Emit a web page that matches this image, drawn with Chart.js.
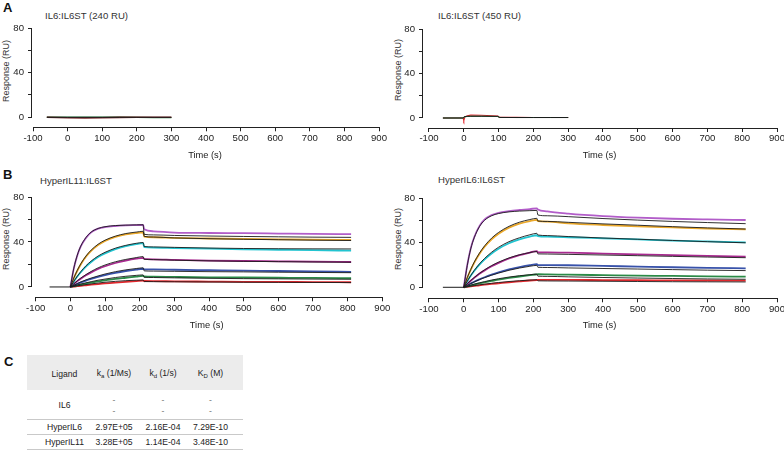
<!DOCTYPE html>
<html><head><meta charset="utf-8">
<script src="https://cdn.jsdelivr.net/npm/chart.js@4.4.1/dist/chart.umd.min.js"></script>
<style>
body{margin:0;background:#fff;}
#wrap{position:relative;width:784px;height:451px;overflow:hidden;font-family:"Liberation Sans",Arial,sans-serif;color:#222;}
canvas{position:absolute;}
.letter{position:absolute;font-weight:bold;font-size:13px;line-height:13px;color:#111;}
.ptitle{position:absolute;font-size:9.6px;line-height:10px;white-space:nowrap;color:#333;}
.ytitle{position:absolute;font-size:9px;line-height:10px;white-space:nowrap;transform:translate(-50%,-50%) rotate(-90deg);color:#333;}
.tcell{position:absolute;font-size:8.6px;line-height:10px;white-space:nowrap;transform:translate(-50%,-50%);color:#222;}
.tcell sub{font-size:6px;vertical-align:-2px;}
.dash{color:#777;}
.tline{position:absolute;left:27px;width:216px;height:1px;background:#c9c9c9;}
</style></head>
<body><div id="wrap">
<div class="letter" style="left:3px;top:1px">A</div>
<div class="letter" style="left:3px;top:168px">B</div>
<div class="letter" style="left:4px;top:355px">C</div>
<div class="ptitle" style="left:45px;top:11px">IL6:IL6ST (240 RU)</div>
<div class="ptitle" style="left:438px;top:11px">IL6:IL6ST (450 RU)</div>
<div class="ptitle" style="left:40px;top:175.5px">HyperIL11:IL6ST</div>
<div class="ptitle" style="left:438px;top:175px">HyperIL6:IL6ST</div>
<div class="ytitle" style="left:6px;top:70.5px">Response (RU)</div>
<div class="ytitle" style="left:398px;top:70px">Response (RU)</div>
<div class="ytitle" style="left:6px;top:239px">Response (RU)</div>
<div class="ytitle" style="left:398px;top:239px">Response (RU)</div>
<canvas id="cA1" width="392" height="162" style="left:0;top:0"></canvas>
<canvas id="cA2" width="392" height="162" style="left:392px;top:0"></canvas>
<canvas id="cB1" width="392" height="169" style="left:0;top:163px"></canvas>
<canvas id="cB2" width="392" height="169" style="left:392px;top:163px"></canvas>
<div id="table"></div>
</div>
<script>
// ---------- tick values ----------
const xTickVals = [-100, 0, 100, 200, 300, 400, 500, 600, 700, 800, 900];
const yTickVals = [0, 10, 20, 30, 40, 50, 60, 70, 80];
const yLabelVals = [0, 40, 80];

// ---------- panel A : IL6 (no binding) ----------
const timeA1 = [-60, 0, 50, 100, 150, 200, 250, 300];
const a1Green = [0, 0, 0, 0, 0, -0.1, -0.3, -0.3];
const a1DarkRed = [0, -0.4, -0.5, -0.4, -0.1, 0, 0, 0];
const a1Black = [0, 0, 0, 0, 0, 0, 0, 0];

const timeA2 = [-60, -2, 0, 3, 10, 20, 50, 98, 102, 150, 200, 250, 300];
const a2Red = [0, 0, -2.4, 0.8, 2, 2.6, 2.5, 1.8, 0.8, 0.6, 0.5, 0.5, 0.5];
const a2Green = [0, 0, 0, 1.2, 1.4, 1.5, 1.5, 1.4, 0.6, 0.5, 0.5, 0.5, 0.5];
const a2Black = [0, 0, 0, 1.3, 1.5, 1.6, 1.6, 1.5, 0.5, 0.4, 0.4, 0.4, 0.4];

// ---------- panel B : sensorgrams ----------
const baseTime = [-60, 0];
const baseVals = [0, 0];
const timeB = [0, 10, 20, 30, 45, 60, 80, 100, 130, 160, 190, 210, 213, 240, 300, 400, 500, 600, 700, 810];

// HyperIL11:IL6ST  measured
const il11Purple  = [0, 16.5, 28, 36, 43.5, 48.5, 51.8, 53.3, 54.2, 54.7, 55, 55.2, 51.3, 49.5, 48.4, 48, 47.8, 47.5, 47.2, 46.9];
const il11Orange  = [0, 7.8, 14.4, 20, 26.8, 32, 37.2, 40.9, 44.5, 46.7, 48, 48.6, 44.8, 44.2, 43.6, 43.1, 42.7, 42.4, 42.1, 41.8];
const il11Cyan    = [0, 4.9, 9.3, 13.1, 18.1, 22.2, 26.6, 29.9, 33.7, 36.3, 38.1, 38.9, 35.4, 35, 34.6, 34, 33.5, 33.1, 32.7, 32.3];
const il11Magenta = [0, 2.7, 5.2, 7.4, 10.4, 13, 16, 18.4, 21.3, 23.4, 25.1, 25.9, 24.9, 24.6, 24.1, 23.5, 23.1, 22.8, 22.5, 22.2];
const il11Blue    = [0, 1.4, 2.7, 4, 5.7, 7.2, 9, 10.6, 12.6, 14.2, 15.5, 16.2, 15.7, 15.6, 15.3, 14.9, 14.5, 14.2, 13.8, 13.5];
const il11Green   = [0, 0.7, 1.4, 2.1, 3, 3.9, 5, 5.9, 7.2, 8.2, 9.2, 9.8, 9.3, 9.1, 8.9, 8.6, 8.4, 8.2, 8, 7.8];
const il11Red     = [0, 0.4, 0.7, 1, 1.5, 2, 2.6, 3.1, 3.9, 4.6, 5.2, 5.6, 5.3, 5.2, 5, 4.8, 4.6, 4.5, 4.3, 4.2];
// HyperIL11:IL6ST  fitted
const il11FitPurple  = [0, 16.8, 28.3, 36.3, 44, 48.8, 52, 53.6, 54.6, 55, 55.2, 55.3, 46.8, 46.3, 45.8, 45.3, 44.9, 44.6, 44.3, 44.1];
const il11FitOrange  = [0, 8, 14.8, 20.6, 27.5, 32.8, 38, 41.6, 45.2, 47.5, 48.8, 49.5, 45, 44.4, 43.6, 42.9, 42.4, 42, 41.6, 41.3];
const il11FitCyan    = [0, 5, 9.6, 13.6, 18.8, 23, 27.5, 30.8, 34.5, 37, 38.8, 39.5, 36, 35.6, 35.2, 34.6, 34.2, 34, 33.9, 33.8];
const il11FitMagenta = [0, 2.8, 5.5, 7.9, 11, 13.8, 17, 19.5, 22.4, 24.5, 26.1, 27, 24.6, 24.3, 23.8, 23.2, 22.8, 22.5, 22.2, 22];
const il11FitBlue    = [0, 1.5, 3, 4.4, 6.3, 7.9, 9.8, 11.5, 13.6, 15.2, 16.4, 17, 14.3, 14.1, 13.9, 13.6, 13.4, 13.1, 12.9, 12.7];
const il11FitGreen   = [0, 0.9, 1.8, 2.6, 3.7, 4.7, 6, 7, 8.4, 9.5, 10.3, 10.7, 8.6, 8.4, 8.1, 7.7, 7.4, 7.2, 7, 6.8];
const il11FitRed     = [0, 0.5, 1, 1.4, 2.1, 2.7, 3.5, 4.2, 5, 5.6, 6, 6.2, 4.8, 4.7, 4.6, 4.4, 4.2, 4.1, 4, 3.9];

// HyperIL6:IL6ST  measured
const il6Purple  = [0, 20, 35, 45, 55, 61, 65, 67, 68.5, 69.5, 70.3, 71, 70, 68.2, 66.2, 64, 62.6, 61.6, 61, 60.5];
const il6Orange  = [0, 8.4, 15.6, 22, 29.9, 36.4, 43.1, 48.2, 53.6, 57.2, 59.5, 60.6, 59.5, 59, 57.5, 56, 54.8, 53.8, 52.8, 52];
const il6Cyan    = [0, 5.4, 10.3, 14.6, 20.3, 25.1, 30.4, 34.7, 39.6, 43, 45.6, 46.8, 46, 45.5, 45, 44, 43, 42, 41.2, 40.4];
const il6Magenta = [0, 3.1, 5.9, 8.5, 12.1, 15.2, 18.9, 22, 25.9, 28.9, 31.2, 32.6, 31.5, 31.4, 31.1, 30.3, 29.6, 28.9, 28.2, 27.5];
const il6Blue    = [0, 1.8, 3.4, 5, 7.1, 9, 11.3, 13.4, 16, 18.1, 19.9, 20.8, 20, 19.9, 19.8, 19.2, 18.6, 18, 17.5, 17];
const il6Green   = [0, 0.8, 1.6, 2.4, 3.5, 4.5, 5.7, 6.9, 8.4, 9.7, 10.9, 11.6, 11.7, 11.6, 11.3, 10.9, 10.5, 10.2, 9.8, 9.5];
const il6Red     = [0, 0.4, 0.8, 1.2, 1.8, 2.3, 3, 3.6, 4.5, 5.3, 6.1, 6.5, 6.6, 6.6, 6.6, 6.5, 6.4, 6.2, 6.1, 6];
// HyperIL6:IL6ST  fitted
const il6FitPurple  = [0, 19.5, 34.5, 44.5, 54.5, 60.3, 64.3, 66.3, 67.8, 68.5, 68.9, 69.1, 65, 64.3, 63.5, 61.8, 60.4, 59.2, 58.2, 57.2];
const il6FitOrange  = [0, 8.6, 16, 22.6, 30.7, 37.3, 44.2, 49.3, 54.8, 58.5, 60.9, 62, 59.6, 59.2, 58.4, 57, 55.8, 54.5, 53.4, 52.4];
const il6FitCyan    = [0, 5.5, 10.6, 15.1, 21, 26, 31.5, 36, 41, 44.5, 47.2, 48.5, 47, 46.5, 45.6, 44.3, 43.2, 42.1, 41, 40];
const il6FitMagenta = [0, 3.2, 6.1, 8.8, 12.5, 15.7, 19.5, 22.6, 26.4, 29.2, 31.2, 32.2, 30, 29.9, 29.6, 29, 28.4, 27.8, 27.2, 26.6];
const il6FitBlue    = [0, 1.7, 3.3, 4.8, 6.9, 8.7, 10.9, 12.8, 15.3, 17.3, 18.9, 19.7, 18, 17.8, 17.4, 16.9, 16.4, 15.9, 15.4, 15];
const il6FitGreen   = [0, 1, 1.9, 2.8, 4, 5.1, 6.5, 7.7, 9.2, 10.4, 11.3, 11.8, 10, 9.8, 9.4, 8.8, 8.3, 7.9, 7.5, 7.2];
const il6FitRed     = [0, 0.5, 1, 1.5, 2.2, 2.8, 3.6, 4.3, 5.2, 5.9, 6.5, 6.8, 5.8, 5.7, 5.6, 5.4, 5.2, 5, 4.9, 4.8];

// ---------- table C ----------
const tableHeader = [['Ligand', '', ''], ['k', 'a', ' (1/Ms)'], ['k', 'd', ' (1/s)'], ['K', 'D', ' (M)']];
const ligands = ['IL6', 'HyperIL6', 'HyperIL11'];
const kaValues = [null, '2.97E+05', '3.28E+05'];
const kdValues = [null, '2.16E-04', '1.14E-04'];
const KDValues = [null, '7.29E-10', '3.48E-10'];

// ---------- styles ----------
const COL = {purple:'#b25dc9', orange:'#eaa82a', cyan:'#22c4d0', magenta:'#a8298f', blue:'#3852aa', green:'#2b8a47', red:'#e2282d', darkred:'#7a2a2a', black:'#1a1a1a'};
const FONT = '"Liberation Sans", Arial, sans-serif';
Chart.defaults.font.family = FONT;
Chart.defaults.color = '#222';

function ds(times, vals, color, width, order, smooth) {
  return {data: times.map((t, i) => ({x: t, y: vals[i]})), borderColor: color, borderWidth: width,
    pointRadius: 0, fill: false, order: order, tension: 0,
    cubicInterpolationMode: smooth ? 'monotone' : 'default'};
}

const alignPx = v => Math.round(v - 0.5) + 0.5;
const axisLines = {
  id: 'axisLines',
  afterDraw(chart) {
    const {ctx, chartArea} = chart, xs = chart.scales.x, ys = chart.scales.y;
    ctx.save(); ctx.strokeStyle = '#222'; ctx.lineWidth = 1; ctx.beginPath();
    const yb = alignPx(chartArea.bottom);
    ctx.moveTo(alignPx(xs.getPixelForValue(xTickVals[0])) - 0.5, yb);
    ctx.lineTo(alignPx(xs.getPixelForValue(xTickVals[xTickVals.length - 1])) + 0.5, yb);
    const xl = alignPx(chartArea.left);
    ctx.moveTo(xl, alignPx(ys.getPixelForValue(yTickVals[0])) + 0.5);
    ctx.lineTo(xl, alignPx(ys.getPixelForValue(yTickVals[yTickVals.length - 1])) - 0.5);
    ctx.stroke(); ctx.restore();
  }
};

function makePanel(id, g, datasets) {
  new Chart(document.getElementById(id), {
    type: 'line',
    data: {datasets},
    plugins: [axisLines],
    options: {
      responsive: false, animation: false, devicePixelRatio: 1,
      layout: {padding: {top: g.top, right: g.right, left: 0, bottom: 0}},
      plugins: {legend: {display: false}, tooltip: {enabled: false}},
      scales: {
        x: {type: 'linear', min: g.xMin, max: 900,
          afterBuildTicks: s => { s.ticks = xTickVals.map(v => ({value: v})); },
          afterFit: s => { s.height = g.xH; s.paddingLeft = 0; s.paddingRight = 0; },
          grid: {display: true, drawOnChartArea: false, drawTicks: true, tickLength: 4, color: '#222', tickColor: '#222'},
          border: {display: false},
          ticks: {autoSkip: false, maxRotation: 0, padding: 1, font: {size: 9.6}, color: '#222'},
          title: {display: true, text: 'Time (s)', font: {size: 9.3}, color: '#222', padding: {top: 0, bottom: g.tpb}}},
        y: {type: 'linear', min: g.yMin, max: 80,
          afterBuildTicks: s => { s.ticks = yTickVals.map(v => ({value: v})); },
          afterFit: s => { s.width = g.yW; s.paddingTop = 0; s.paddingBottom = 0; },
          grid: {display: true, drawOnChartArea: false, drawTicks: true, tickLength: 3, color: '#222', tickColor: '#222'},
          border: {display: false},
          ticks: {padding: 4, font: {size: 9.6}, color: '#222',
            callback: v => yLabelVals.includes(v) ? String(v) : ''}}
      }
    }
  });
}

// Panel A
makePanel('cA1', {top: 28, right: 13, xMin: -105.8, yMin: -8.96, xH: 34.7, yW: 31, tpb: 0.9}, [
  ds(timeA1, a1Black, COL.black, 1, 1, false),
  ds(timeA1, a1DarkRed, COL.darkred, 1.6, 2, false),
  ds(timeA1, a1Green, COL.green, 1.4, 3, false)
]);
makePanel('cA2', {top: 29, right: 7, xMin: -120.1, yMin: -9, xH: 34, yW: 30, tpb: 0.9}, [
  ds(timeA2, a2Black, COL.black, 1, 1, false),
  ds(timeA2, a2Green, COL.green, 1.1, 2, false),
  ds(timeA2, a2Red, COL.red, 1.1, 3, false)
]);

function sensor(dataSets, fitSets) {
  const cols = ['purple', 'orange', 'cyan', 'magenta', 'blue', 'green', 'red'];
  const out = [ds(baseTime, baseVals, COL.black, 1, 0, false)];
  fitSets.forEach(f => out.push(ds(timeB, f, COL.black, 0.9, 1, true)));
  dataSets.forEach((d, i) => out.push(ds(timeB, d, COL[cols[i]], 1.8, 2, true)));
  return out;
}

makePanel('cB1', {top: 34, right: 9.7, xMin: -113.6, yMin: -9.2, xH: 34.7, yW: 31, tpb: 0.6},
  sensor([il11Purple, il11Orange, il11Cyan, il11Magenta, il11Blue, il11Green, il11Red],
         [il11FitPurple, il11FitOrange, il11FitCyan, il11FitMagenta, il11FitBlue, il11FitGreen, il11FitRed]));
makePanel('cB2', {top: 35.3, right: 7, xMin: -120, yMin: -9.9, xH: 33.7, yW: 30, tpb: 0.6},
  sensor([il6Purple, il6Orange, il6Cyan, il6Magenta, il6Blue, il6Green, il6Red],
         [il6FitPurple, il6FitOrange, il6FitCyan, il6FitMagenta, il6FitBlue, il6FitGreen, il6FitRed]));

// Table C
(function buildTable() {
  const wrap = document.getElementById('table');
  const colX = [64.5, 114, 163, 210.5];
  const add = (html, x, y, cls) => {
    const d = document.createElement('div');
    d.className = 'tcell' + (cls ? ' ' + cls : '');
    d.style.left = x + 'px'; d.style.top = y + 'px'; d.innerHTML = html; wrap.appendChild(d);
  };
  const bg = document.createElement('div');
  bg.style.cssText = 'position:absolute;left:27px;top:355px;width:216px;height:35px;background:#ececec;';
  wrap.appendChild(bg);
  tableHeader.forEach((h, i) => add(h[0] + (h[1] ? '<sub>' + h[1] + '</sub>' : '') + h[2], colX[i], 373.5));
  const rowY = [405, 426.5, 441.5];
  const lineY = [419, 433.5, 449];
  ligands.forEach((lig, r) => {
    add(lig, colX[0], rowY[r]);
    [kaValues, kdValues, KDValues].forEach((arr, c) => {
      if (arr[r] === null) {
        add('-', colX[c + 1], rowY[r] - 5.5, 'dash');
        add('-', colX[c + 1], rowY[r] + 5.5, 'dash');
      } else add(arr[r], colX[c + 1], rowY[r]);
    });
    const ln = document.createElement('div');
    ln.className = 'tline'; ln.style.top = lineY[r] + 'px'; wrap.appendChild(ln);
  });
})();
</script>
</body></html>
